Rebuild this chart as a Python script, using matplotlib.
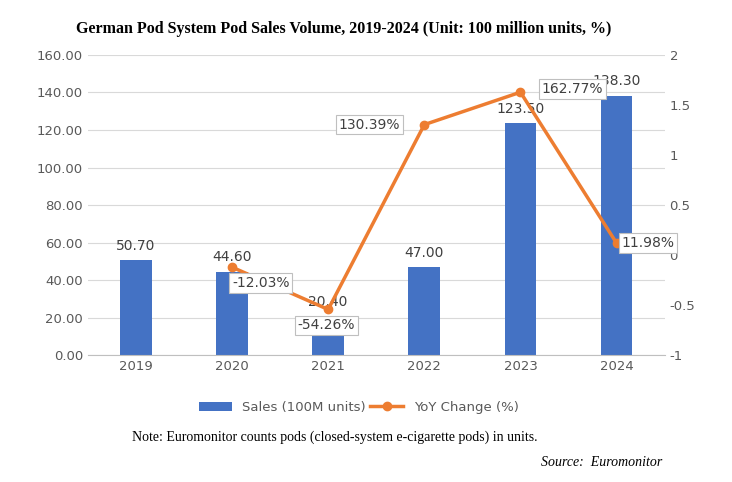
import matplotlib.pyplot as plt
import numpy as np

years = ["2019", "2020", "2021", "2022", "2023", "2024"]
sales = [50.70, 44.60, 20.40, 47.00, 123.50, 138.30]
yoy_years = ["2020", "2021", "2022", "2023", "2024"]
yoy = [-12.03, -54.26, 130.39, 162.77, 11.98]

fig = plt.figure(figsize=(7.32, 4.82), dpi=100)
ax = fig.add_axes([0.12, 0.263, 0.788, 0.623])
x = np.arange(len(years))
ax.bar(x, sales, width=0.33, color="#4472C4", label="Sales (100M units)", zorder=2)
ax.set_ylim(0, 160)
ax.set_yticks(np.arange(0, 161, 20))
ax.set_yticklabels([f"{v:.2f}" for v in np.arange(0, 161, 20)])
ax.set_xticks(x)
ax.set_xticklabels(years)
ax.set_xlim(-0.5, len(years) - 0.5)
ax.grid(axis="y", color="#d9d9d9", lw=0.8, zorder=0)
for s in ["top", "right", "left"]:
    ax.spines[s].set_visible(False)
ax.spines["bottom"].set_color("#bfbfbf")
ax.tick_params(length=0, colors="#595959", labelsize=9.5)
for xi, v in zip(x, sales):
    ax.text(xi, v + 4, f"{v:.2f}", ha="center", va="bottom", fontsize=10, color="#404040")

ax2 = ax.twinx()
yx = [years.index(y) for y in yoy_years]
yv = [v / 100 for v in yoy]
ax2.plot(yx, yv, color="#ED7D31", lw=2.5, marker="o", ms=6, label="YoY Change (%)", zorder=3)
ax2.set_ylim(-1, 2)
ax2.set_yticks(np.arange(-1, 2.01, 0.5))
ax2.set_yticklabels(["-1", "-0.5", "0", "0.5", "1", "1.5", "2"])
for s in ax2.spines.values():
    s.set_visible(False)
ax2.tick_params(length=0, colors="#595959", labelsize=9.5)
# label offsets (dx in categories, dy in axis units), alignment
offsets = [(0.0, -0.16, "left"), (-0.32, -0.16, "left"), (-0.25, 0.0, "right"),
           (0.22, 0.03, "left"), (0.05, 0.0, "left")]
for xi, v, p, (dx, dy, ha) in zip(yx, yv, yoy, offsets):
    ax2.text(xi + dx, v + dy, f"{p:.2f}%", ha=ha, va="center", fontsize=10, color="#404040",
             bbox=dict(boxstyle="square,pad=0.2", fc="white", ec="#bfbfbf", lw=0.8), zorder=4)

h1, l1 = ax.get_legend_handles_labels()
h2, l2 = ax2.get_legend_handles_labels()
fig.legend(h1 + h2, l1 + l2, loc="center", bbox_to_anchor=(0.49, 0.155), ncol=2, frameon=False,
           fontsize=9.5, labelcolor="#595959", handlelength=2.5, columnspacing=0.3)

fig.text(0.47, 0.94, "German Pod System Pod Sales Volume, 2019-2024 (Unit: 100 million units, %)",
         ha="center", va="center", fontsize=11.5, fontweight="bold", family="Liberation Serif")
fig.text(0.18, 0.093, "Note: Euromonitor counts pods (closed-system e-cigarette pods) in units.",
         ha="left", va="center", fontsize=10, family="Liberation Serif")
fig.text(0.905, 0.04, "Source:  Euromonitor", ha="right", va="center", fontsize=10,
         style="italic", family="Liberation Serif")
fig.savefig("out.png", dpi=100)
